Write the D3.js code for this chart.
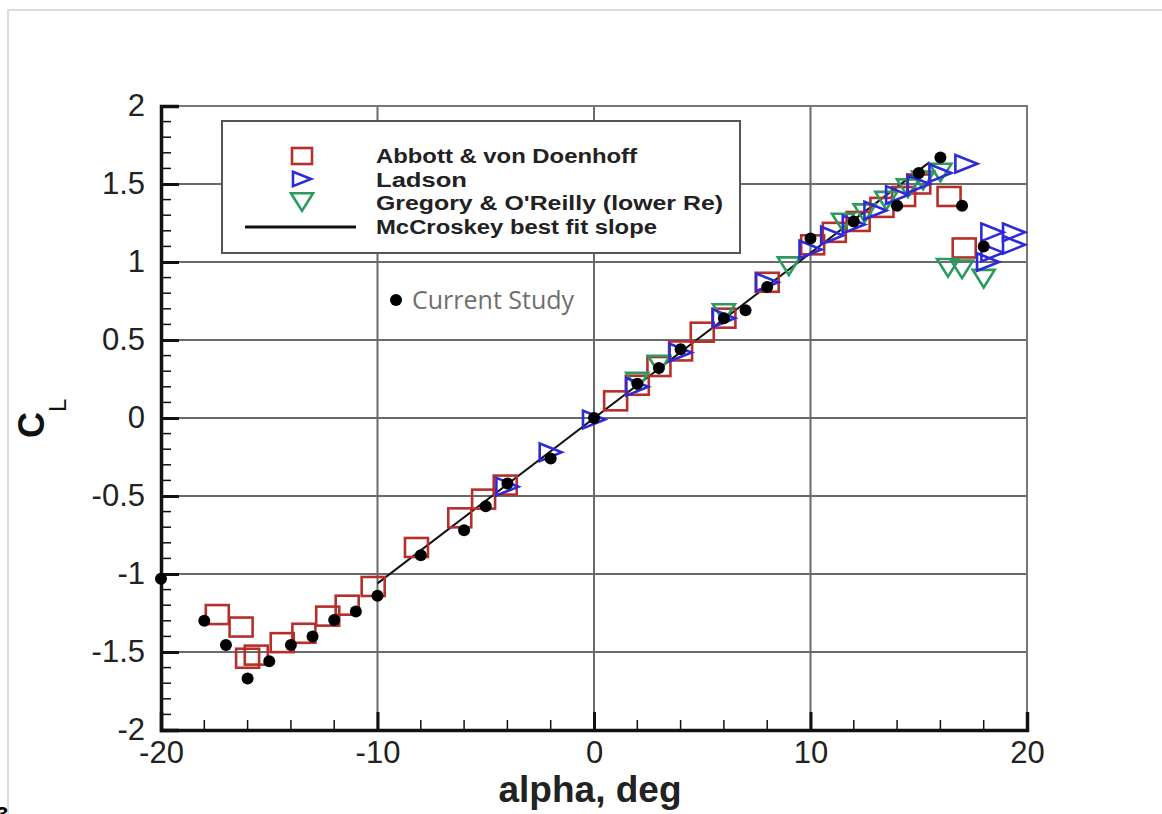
<!DOCTYPE html>
<html>
<head>
<meta charset="utf-8">
<script src="https://cdn.jsdelivr.net/npm/d3@7"></script>
<style>
  body { margin: 0; background: #fff; }
  svg { display: block; }
</style>
</head>
<body>
<div id="chart"></div>
<script>
// series
const studyX = [-20, -18, -17, -16, -15, -14, -13, -12, -11, -10, -8, -6, -5, -4, -2, 0, 2, 3, 4, 6, 7, 8, 10, 12, 14, 15, 16, 17, 18];
const studyY = [-1.03, -1.30, -1.455, -1.67, -1.56, -1.455, -1.40, -1.295, -1.24, -1.14, -0.88, -0.72, -0.565, -0.42, -0.26, 0.0, 0.22, 0.32, 0.44, 0.64, 0.69, 0.84, 1.15, 1.26, 1.36, 1.57, 1.67, 1.36, 1.10];

const abbottX = [-17.4, -16.3, -16.0, -15.6, -14.4, -13.4, -12.3, -11.4, -10.2, -8.2, -6.2, -5.1, -4.1, 1.0, 2.0, 3.0, 4.0, 5.0, 6.0, 8.0, 10.1, 11.1, 12.2, 13.3, 14.3, 15.0, 16.4, 17.1];
const abbottY = [-1.26, -1.34, -1.54, -1.52, -1.44, -1.38, -1.27, -1.20, -1.08, -0.83, -0.64, -0.52, -0.43, 0.11, 0.21, 0.33, 0.43, 0.55, 0.64, 0.87, 1.11, 1.19, 1.26, 1.35, 1.42, 1.50, 1.42, 1.09];

const ladsonX = [-4, -2, 0, 2, 4, 6, 8, 10, 11, 12, 13, 14, 15, 16, 17.2, 18.2, 18.4, 18.4, 19.4, 19.4];
const ladsonY = [-0.44, -0.22, -0.01, 0.20, 0.42, 0.64, 0.87, 1.08, 1.17, 1.24, 1.33, 1.43, 1.50, 1.57, 1.63, 1.00, 1.06, 1.19, 1.11, 1.19];

const gregoryX = [2, 3, 6, 9, 11.5, 12.5, 13.5, 14.5, 15.2, 16.0, 16.35, 17.0, 18.0];
const gregoryY = [0.24, 0.35, 0.68, 0.98, 1.26, 1.32, 1.40, 1.48, 1.53, 1.58, 0.97, 0.96, 0.90];

const fitX = [-10, 15.5];
const fitY = [-1.06, 1.64];

const xTicks = [-20, -10, 0, 10, 20];
const yTicks = [-2, -1.5, -1, -0.5, 0, 0.5, 1, 1.5, 2];
const legendNames = ["Abbott & von Doenhoff", "Ladson", "Gregory & O'Reilly (lower Re)", "McCroskey best fit slope"];
const legendWidths = [261, 91, 347, 281];

const W = 1162, H = 814;
const pLeft = 161, pRight = 1027, pTop = 106, pBottom = 730;
const RED = "#b5302c", BLUE = "#2d2ad8", GREEN = "#2b9a5e";

const svg = d3.select("#chart").append("svg")
  .attr("width", W).attr("height", H)
  .style("font-family", "'Liberation Sans', Arial, sans-serif");

// faint photo border
svg.append("rect").attr("x", 8).attr("y", 10).attr("width", W + 20).attr("height", H + 20)
  .attr("fill", "none").attr("stroke", "#ddd").attr("stroke-width", 2);

const x = d3.scaleLinear().domain([-20, 20]).range([pLeft, pRight]);
const y = d3.scaleLinear().domain([-2, 2]).range([pBottom, pTop]);

// grid
svg.append("g").selectAll("line").data(xTicks.slice(1, -1)).join("line")
  .attr("x1", d => x(d)).attr("x2", d => x(d)).attr("y1", pTop).attr("y2", pBottom)
  .attr("stroke", "#6a6a6a").attr("stroke-width", 2);
svg.append("g").selectAll("line").data(yTicks.slice(1, -1)).join("line")
  .attr("x1", pLeft).attr("x2", pRight).attr("y1", d => y(d)).attr("y2", d => y(d))
  .attr("stroke", "#6a6a6a").attr("stroke-width", 2);

// frame top/right
svg.append("path")
  .attr("d", `M${pLeft},${pTop}H${pRight}V${pBottom}`)
  .attr("fill", "none").attr("stroke", "#777").attr("stroke-width", 2);

// minor ticks
const yMinor = d3.range(-19, 20).map(d => d / 10).filter(d => Math.abs(d * 2 - Math.round(d * 2)) > 1e-6);
const xMinor = d3.range(-18, 20, 2).filter(d => d % 10 !== 0);

const yAxis = svg.append("g").attr("transform", `translate(${pLeft},0)`)
  .call(d3.axisLeft(y).tickValues(yTicks).tickSize(-18).tickPadding(16)
    .tickFormat(d => String(d)));
const xAxis = svg.append("g").attr("transform", `translate(0,${pBottom})`)
  .call(d3.axisBottom(x).tickValues(xTicks).tickSize(-18).tickPadding(11)
    .tickFormat(d => String(d)));

svg.append("g").selectAll("line").data(yMinor).join("line")
  .attr("x1", pLeft).attr("x2", pLeft + 10).attr("y1", d => y(d)).attr("y2", d => y(d))
  .attr("stroke", "#111").attr("stroke-width", 1.5);
svg.append("g").selectAll("line").data(xMinor).join("line")
  .attr("x1", d => x(d)).attr("x2", d => x(d)).attr("y1", pBottom).attr("y2", pBottom - 10)
  .attr("stroke", "#111").attr("stroke-width", 1.5);

[yAxis, xAxis].forEach(g => {
  g.select(".domain").attr("stroke", "#111").attr("stroke-width", 3.5);
  g.selectAll(".tick line").attr("stroke", "#111").attr("stroke-width", 3);
  g.selectAll(".tick text").attr("fill", "#222").style("font-size", "31px").style("font-family", "'Liberation Sans', Arial, sans-serif");
});

// axis titles
svg.append("text").attr("x", 590).attr("y", 802).attr("text-anchor", "middle")
  .style("font-size", "37px").style("font-weight", "bold").attr("fill", "#222")
  .text("alpha, deg");
const cl = svg.append("text").attr("transform", "translate(44,438) rotate(-90)")
  .style("font-size", "36px").attr("fill", "#111").style("font-weight", "bold");
cl.append("tspan").text("C");
cl.append("tspan").attr("dy", 22).style("font-size", "24px").style("font-weight", "normal").text("L");

// markers
function square(g, px, py, color) {
  g.append("rect").attr("x", px - 11.5).attr("y", py - 9.5).attr("width", 23).attr("height", 19)
    .attr("fill", "none").attr("stroke", color).attr("stroke-width", 2.6);
}
function triRight(g, px, py, color, s) {
  s = s || 11;
  g.append("path").attr("d", `M${px - s},${py - s * 0.8}L${px + s},${py}L${px - s},${py + s * 0.8}Z`)
    .attr("fill", "none").attr("stroke", color).attr("stroke-width", 2.6);
}
function triDown(g, px, py, color, s) {
  s = s || 11;
  g.append("path").attr("d", `M${px - s},${py - s * 0.7}L${px + s},${py - s * 0.7}L${px},${py + s * 0.9}Z`)
    .attr("fill", "none").attr("stroke", color).attr("stroke-width", 2.6);
}

const marks = svg.append("g");
// fit line
marks.append("path").datum(d3.zip(fitX, fitY))
  .attr("d", d3.line().x(d => x(d[0])).y(d => y(d[1])))
  .attr("stroke", "#111").attr("stroke-width", 2).attr("fill", "none");

abbottX.forEach((v, i) => square(marks, x(v), y(abbottY[i]), RED));
gregoryX.forEach((v, i) => triDown(marks, x(v), y(gregoryY[i]), GREEN));
ladsonX.forEach((v, i) => triRight(marks, x(v), y(ladsonY[i]), BLUE));
marks.append("g").selectAll("circle").data(d3.zip(studyX, studyY)).join("circle")
  .attr("cx", d => x(d[0])).attr("cy", d => y(d[1])).attr("r", 6).attr("fill", "#000");

// legend
const lg = svg.append("g");
lg.append("rect").attr("x", 222).attr("y", 121).attr("width", 518).attr("height", 132)
  .attr("fill", "#fff").attr("stroke", "#555").attr("stroke-width", 2);
lg.append("rect").attr("x", 292).attr("y", 148).attr("width", 20).attr("height", 16)
  .attr("fill", "none").attr("stroke", RED).attr("stroke-width", 2.6);
triRight(lg, 302, 179, BLUE, 9);
triDown(lg, 302, 201, GREEN, 11);
lg.append("line").attr("x1", 245).attr("x2", 356).attr("y1", 227).attr("y2", 227)
  .attr("stroke", "#111").attr("stroke-width", 3);
legendNames.forEach((n, i) => {
  lg.append("text").attr("x", 376).attr("y", 163 + i * 23.5)
    .attr("textLength", legendWidths[i]).attr("lengthAdjust", "spacingAndGlyphs")
    .style("font-size", "20px").style("font-weight", "bold").attr("fill", "#222").text(n);
});

svg.append("circle").attr("cx", 396).attr("cy", 300).attr("r", 6).attr("fill", "#000");
svg.append("text").attr("x", 412).attr("y", 309).style("font-family", "'Open Sans', 'Noto Sans', sans-serif")
  .style("font-size", "25px").attr("fill", "#6f6f6f").text("Current Study");

svg.append("text").attr("x", -4).attr("y", 822).style("font-size", "22px").style("font-weight", "bold").text("3");
</script>
</body>
</html>
